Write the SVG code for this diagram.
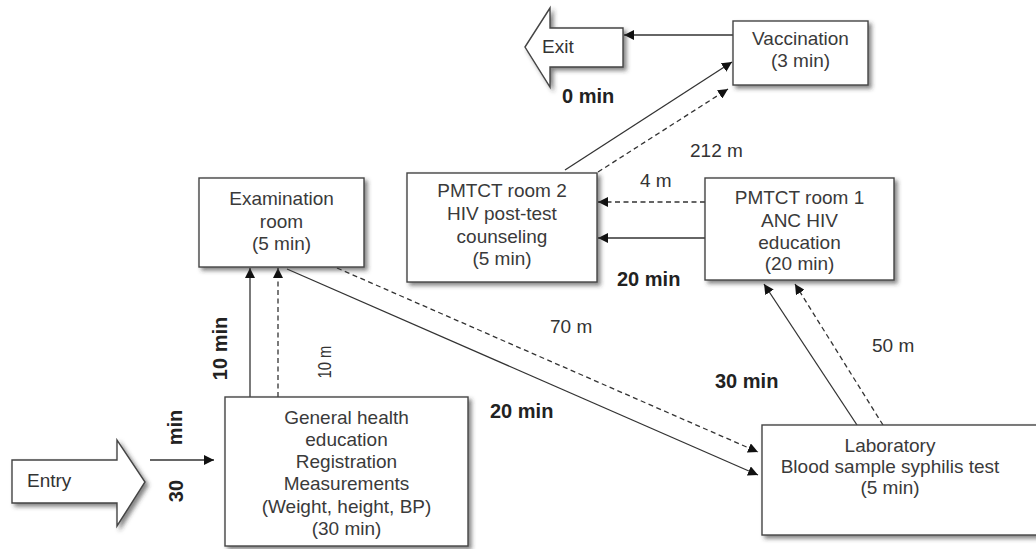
<svg xmlns="http://www.w3.org/2000/svg" width="1036" height="549" viewBox="0 0 1036 549">
<style>
.box{fill:#fff;stroke:#444;stroke-width:1.4;filter:url(#sh)}
.t{font-family:"Liberation Sans",Arial,sans-serif;font-size:19px;fill:#3a3a3a;text-anchor:middle}
.l{font-family:"Liberation Sans",Arial,sans-serif;font-size:19px;fill:#333}
.b{font-family:"Liberation Sans",Arial,sans-serif;font-size:20px;font-weight:bold;fill:#222}
.c{stroke:#333;stroke-width:1.3;fill:none;marker-end:url(#ah)}
.d{stroke-dasharray:5 3.5}
</style>
<defs>
<filter id="sh" x="-10%" y="-10%" width="130%" height="130%">
<feDropShadow dx="3" dy="3" stdDeviation="2" flood-color="#333" flood-opacity="0.6"/>
</filter>
<marker id="ah" viewBox="0 0 10 10" refX="10" refY="5" markerWidth="10" markerHeight="10" markerUnits="userSpaceOnUse" orient="auto">
<path d="M0,0 L10,5 L0,10 z" fill="#111"/>
</marker>
</defs>
<rect width="1036" height="549" fill="#fff"/>

<g id="connectors">
<line class="c" x1="733" y1="35" x2="624" y2="35"/>
<line class="c" x1="565" y1="170" x2="732" y2="62"/>
<line class="c d" x1="598" y1="172" x2="728" y2="89"/>
<line class="c d" x1="705" y1="202" x2="598" y2="202"/>
<line class="c" x1="705" y1="238" x2="598" y2="238"/>
<line class="c" x1="287" y1="269" x2="758" y2="475"/>
<line class="c d" x1="337" y1="268" x2="758" y2="452"/>
<line class="c" x1="857" y1="425" x2="764" y2="284"/>
<line class="c d" x1="883" y1="425" x2="795" y2="284"/>
<line class="c" x1="250" y1="397" x2="250" y2="268"/>
<line class="c d" x1="278" y1="397" x2="278" y2="268"/>
<line class="c" x1="150" y1="460" x2="214" y2="460"/>
</g>

<g id="labels">
<text class="b" x="562" y="103">0 min</text>
<text class="l" x="690" y="157">212 m</text>
<text class="l" x="640" y="187">4 m</text>
<text class="b" x="617" y="286">20 min</text>
<text class="l" x="550" y="333">70 m</text>
<text class="l" x="872" y="352">50 m</text>
<text class="b" x="715" y="388">30 min</text>
<text class="b" x="490" y="418">20 min</text>
<text class="b" text-anchor="middle" transform="translate(227,348.5) rotate(-90)">10 min</text>
<text class="l" text-anchor="middle" transform="translate(331,362) rotate(-90) scale(0.78,1)">10 m</text>
<text class="b" text-anchor="middle" transform="translate(182,427.5) rotate(-90)">min</text>
<text class="b" text-anchor="middle" transform="translate(183,491) rotate(-90)">30</text>
</g>

<g id="exit">
<polygon class="box" points="525,47 550,8 550,28 623,28 623,67 550,67 550,87"/>
<text class="l" x="542" y="53">Exit</text>
</g>

<g id="entry">
<polygon class="box" points="12,460 117,460 117,440 145,482 117,526 117,503 12,503"/>
<text class="l" x="27" y="487">Entry</text>
</g>

<g id="vaccination">
<rect class="box" x="733" y="21" width="135" height="64"/>
<text class="t" x="800.5" y="45">Vaccination</text>
<text class="t" x="800.5" y="67">(3 min)</text>
</g>

<g id="examination">
<rect class="box" x="199" y="178" width="165" height="89"/>
<text class="t" x="281.5" y="205">Examination</text>
<text class="t" x="281.5" y="228">room</text>
<text class="t" x="281.5" y="250">(5 min)</text>
</g>

<g id="pmtct2">
<rect class="box" x="407" y="173" width="190" height="109"/>
<text class="t" x="502" y="197">PMTCT room 2</text>
<text class="t" x="502" y="220">HIV post-test</text>
<text class="t" x="502" y="243">counseling</text>
<text class="t" x="502" y="265">(5 min)</text>
</g>

<g id="pmtct1">
<rect class="box" x="705" y="178" width="189" height="102"/>
<text class="t" x="799.5" y="204">PMTCT room 1</text>
<text class="t" x="799.5" y="227">ANC HIV</text>
<text class="t" x="799.5" y="249">education</text>
<text class="t" x="799.5" y="270">(20 min)</text>
</g>

<g id="general">
<rect class="box" x="225" y="397" width="243" height="149"/>
<text class="t" x="346.5" y="424">General health</text>
<text class="t" x="346.5" y="446">education</text>
<text class="t" x="346.5" y="468">Registration</text>
<text class="t" x="346.5" y="490">Measurements</text>
<text class="t" x="346.5" y="513">(Weight, height, BP)</text>
<text class="t" x="346.5" y="535">(30 min)</text>
</g>

<g id="laboratory">
<rect class="box" x="762" y="425" width="290" height="110"/>
<text class="t" x="890" y="452">Laboratory</text>
<text class="t" x="890" y="473">Blood sample syphilis test</text>
<text class="t" x="890" y="494">(5 min)</text>
</g>
</svg>
